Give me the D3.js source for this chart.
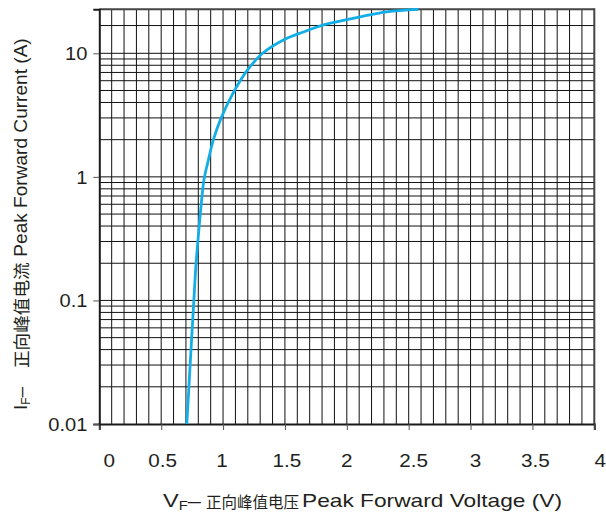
<!DOCTYPE html>
<html>
<head>
<meta charset="utf-8">
<script src="https://cdn.jsdelivr.net/npm/d3@7"></script>
<style>
  html, body { margin: 0; padding: 0; background: #fff; }
  svg { display: block; }
  text { font-family: "Liberation Sans", Arial, "Noto Sans CJK SC", sans-serif; fill: #231f20; }
  text.cjk { font-family: "Noto Sans CJK SC", sans-serif; }
</style>
</head>
<body>
<svg id="chart" width="606" height="524"></svg>
<script>
// ---- data ----
const voltage = [0.707, 0.734, 0.764, 0.779, 0.800, 0.820, 0.846, 0.880, 0.922, 0.985, 1.083, 1.192, 1.320, 1.500, 1.650, 1.811, 2.000, 2.108, 2.323, 2.579];
const current = [0.01, 0.03, 0.1, 0.18, 0.33, 0.55, 0.95, 1.35, 2.0, 3.0, 4.8, 7.2, 10, 14.2, 17, 20.3, 23.2, 24.9, 28.2, 30];
const xTicks = [0, 0.5, 1, 1.5, 2, 2.5, 3, 3.5, 4];
const xTickLabels = ["0", "0.5", "1", "1.5", "2", "2.5", "3", "3.5", "4"];
const yTicks = [0.01, 0.1, 1, 10];
const yTickLabels = ["0.01", "0.1", "1", "10"];
const yGrid = [0.02,0.03,0.04,0.05,0.06,0.07,0.08,0.09,0.1,0.2,0.3,0.4,0.5,0.6,0.7,0.8,0.9,1,2,3,4,5,6,7,8,9,10,20];
const xGrid = d3.range(1, 40).map(i => i / 10);

const svg = d3.select("#chart");
const L = 99.3, R = 594.3, T = 9.3, B = 424;
const x = d3.scaleLinear().domain([0, 4]).range([L, R]);
const y = d3.scaleLog().domain([0.01, 10, 30]).range([B, 53.3, T]);

// grid
svg.append("g").selectAll("line").data(xGrid).join("line")
  .attr("x1", d => x(d)).attr("x2", d => x(d)).attr("y1", T).attr("y2", B)
  .attr("stroke", "#111").attr("stroke-width", 1);
svg.append("g").selectAll("line").data(yGrid).join("line")
  .attr("x1", L).attr("x2", R).attr("y1", d => y(d)).attr("y2", d => y(d))
  .attr("stroke", "#111").attr("stroke-width", 1);

// frame
svg.append("line").attr("x1", L).attr("x2", R).attr("y1", T).attr("y2", T).attr("stroke", "#444").attr("stroke-width", 2);
svg.append("line").attr("x1", R).attr("x2", R).attr("y1", T - 1).attr("y2", B).attr("stroke", "#444").attr("stroke-width", 2);

// axes
const xAxis = d3.axisBottom(x).tickValues(xTicks).tickSize(6).tickFormat("");
const gx = svg.append("g").attr("transform", `translate(0,${B})`).call(xAxis);
gx.select(".domain").attr("stroke", "#1a1a1a").attr("stroke-width", 2);
gx.selectAll(".tick line").attr("stroke", "#555");
const yAxis = d3.axisLeft(y).tickValues(yTicks).tickSize(6).tickFormat("");
const gy = svg.append("g").attr("transform", `translate(${L},0)`).call(yAxis);
gy.select(".domain").attr("stroke", "#1a1a1a").attr("stroke-width", 2);
gy.selectAll(".tick line").attr("stroke", "#555");

// tick labels (source text is slightly wide)
const xNudge = [10, 1.5, -1, 2, 0, 5, 5, 3, 6];
svg.append("g").selectAll("text").data(xTicks).join("text")
  .attr("transform", (d, i) => `translate(${x(d) + xNudge[i]},467) scale(1.15,1)`)
  .attr("text-anchor", "middle").attr("font-size", 18)
  .text((d, i) => xTickLabels[i]);
svg.append("g").selectAll("text").data(yTicks).join("text")
  .attr("transform", d => `translate(87.5,${y(d) + 6.8}) scale(1.06,1)`)
  .attr("text-anchor", "end").attr("font-size", 19)
  .text((d, i) => yTickLabels[i]);

// curve
const line = d3.line().x((d, i) => x(voltage[i])).y((d, i) => y(current[i])).curve(d3.curveCatmullRom.alpha(0.5));
svg.append("path").datum(voltage).attr("d", line)
  .attr("fill", "none").attr("stroke", "#12aee8").attr("stroke-width", 2.8);

// x axis title
const xt = svg.append("g");
const xa = xt.append("text").attr("x", 163).attr("y", 507).attr("font-size", 19)
  .attr("textLength", 38).attr("lengthAdjust", "spacingAndGlyphs");
xa.append("tspan").text("V");
xa.append("tspan").attr("font-size", 12).attr("dy", 3).text("F");
xa.append("tspan").attr("dy", -3).text("–");
xt.append("text").attr("class", "cjk").attr("x", 206).attr("y", 508).attr("font-size", 15.5)
  .text("正向峰值电压");
xt.append("text").attr("x", 302).attr("y", 507).attr("font-size", 19)
  .attr("textLength", 260).attr("lengthAdjust", "spacingAndGlyphs").text("Peak Forward Voltage (V)");

// y axis title (rotated)
const yt = svg.append("g").attr("transform", "translate(27,0) rotate(-90)");
const ya = yt.append("text").attr("x", -410).attr("y", 0).attr("font-size", 19);
ya.append("tspan").text("I");
ya.append("tspan").attr("font-size", 12).attr("dy", 3).text("F");
ya.append("tspan").attr("dy", -3).text("–");
yt.append("text").attr("class", "cjk").attr("x", -368).attr("y", 1).attr("font-size", 17.6)
  .text("正向峰值电流");
yt.append("text").attr("x", -256.7).attr("y", 0).attr("font-size", 19)
  .attr("textLength", 218.4).attr("lengthAdjust", "spacingAndGlyphs").text("Peak Forward Current (A)");
</script>
</body>
</html>
